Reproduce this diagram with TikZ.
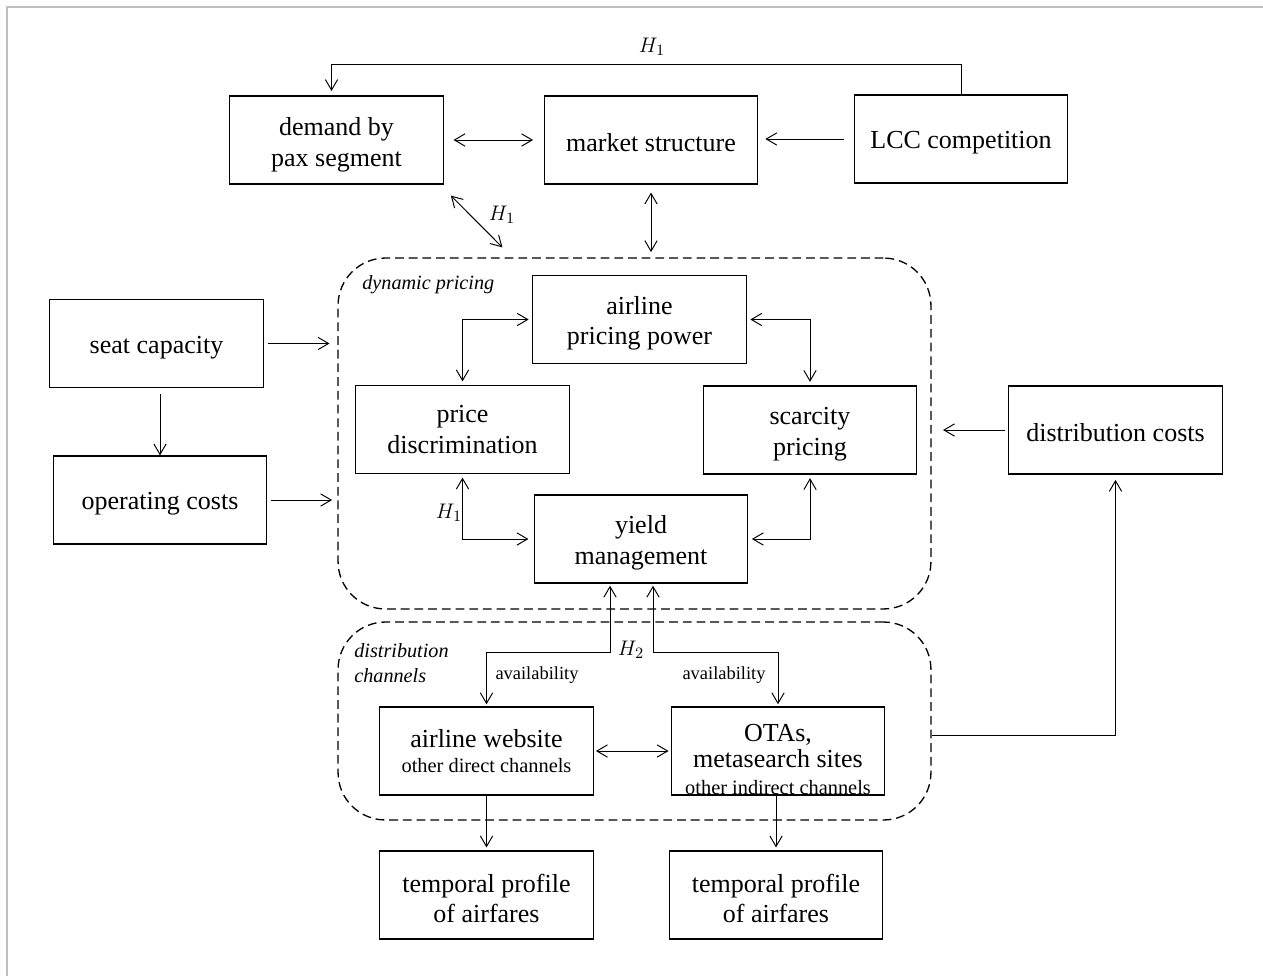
\documentclass[tikz,border=0pt]{standalone}
\usepackage{fontspec}
\setmainfont{Liberation Serif}
\usetikzlibrary{arrows.meta,calc}
\newcommand\mainsz{\fontsize{14.8}{17.5}\selectfont}
\newcommand\subsz{\fontsize{11.6}{13.5}\selectfont}
\newcommand\lblsz{\fontsize{10.5}{12}\selectfont}
\newcommand\itsz{\fontsize{11.5}{14.5}\selectfont\itshape}
\newcommand\hsz{\fontsize{12.5}{14}\selectfont}
\newcommand\firstln{\rule{0pt}{14.5pt}}
\begin{document}
\begin{tikzpicture}[x=0.02cm,y=-0.02cm,
  box/.style={draw, line width=0.7pt, inner sep=0pt, align=center, font=\mainsz,
              minimum width=4.27cm, minimum height=1.76cm,
              execute at begin node={\rule{0pt}{13.5pt}}},
  grp/.style={draw, line width=0.75pt, dash pattern=on 5pt off 2.8pt,
              rounded corners=0.95cm, inner sep=0pt},
  arr/.style={line width=0.55pt, -{Straight Barb[length=6pt,width=7pt]}},
  arrb/.style={line width=0.55pt, {Straight Barb[length=6pt,width=7pt]}-{Straight Barb[length=6pt,width=7pt]}},
  lbl/.style={inner sep=0pt}]
\useasboundingbox (0,0) rectangle (1263,976);
\draw[line width=1.2pt, black!25] (7,976) -- (7,7) -- (1263,7);

% containers
\node[grp, minimum width=11.86cm, minimum height=7.02cm] (dyn) at (634.5,433.5) {};
\node[grp, minimum width=11.86cm, minimum height=3.96cm] (dch) at (634.5,721) {};
\node[lbl, font=\itsz, anchor=west] (dynlbl) at (362,285) {dynamic pricing};
\node[lbl, font=\itsz, anchor=west, align=left] (dchlbl) at (354,663) {distribution\\channels};

% boxes
\node[box] (demand) at (336.5,140) {\rule{0pt}{16pt}demand by\\pax segment};
\node[box] (market) at (651,140) {market structure};
\node[box] (lcc) at (961,139) {LCC competition};
\node[box] (seat) at (156.5,343.5) {\rule{0pt}{14.5pt}seat capacity};
\node[box] (op) at (160,500) {operating costs};
\node[box] (app) at (639.5,319.5) {\firstln airline\\pricing power};
\node[box] (pd) at (462.5,429.5) {price\\discrimination};
\node[box] (scar) at (810,430) {\firstln scarcity\\pricing};
\node[box] (yield) at (641,539) {\firstln yield\\management};
\node[box] (dcost) at (1115.5,430) {distribution costs};
\node[box] (web) at (486.5,751) {airline website\\[-3pt]\subsz other direct channels};
\node[box] (ota) at (778,751) {\rule{0pt}{19pt}OTAs,\\[-2.3pt]metasearch sites\\[-2.5pt]\subsz other indirect channels};
\node[box] (tp1) at (486.5,895) {\firstln temporal profile\\of airfares};
\node[box] (tp2) at (776,895) {\firstln temporal profile\\of airfares};

% top feedback
\draw[arr, shorten >=2.5pt] (lcc.north) -- ++(0,-30) coordinate (tc) -| ([xshift=-0.1cm]demand.north);
\node[lbl, font=\hsz] (h1a) at (652,47) {$H_1$};
\draw[arrb, shorten <=5.5pt, shorten >=6pt] (demand.east) -- (market.west);
\draw[arr, shorten <=5.5pt, shorten >=4pt] (lcc.west) -- (market.east |- lcc.west);
\draw[arrb] ($(demand.south east)+(7,11)$) -- ($(dyn.north west)+(165,-10)$);
\node[lbl, font=\hsz] (h1b) at (502,215) {$H_1$};
\draw[arrb, shorten <=4.5pt, shorten >=3pt] (market.south) -- (market.south |- dyn.north);

% left inputs
\draw[arr, shorten <=2.3pt, shorten >=4.5pt] (seat.east) -- (seat.east -| dyn.west);
\draw[arr, shorten <=3.4pt] (op.north |- seat.south) -- (op.north);
\draw[arr, shorten <=2pt, shorten >=3pt] (op.east) -- (op.east -| dyn.west);
\draw[arr, shorten <=2pt, shorten >=6.5pt] (dcost.west) -- (dcost.west -| dyn.east);

% inside dynamic pricing
\draw[arrb, shorten <=2pt, shorten >=2pt] (pd.north) |- (app.west);
\draw[arrb, shorten <=2pt, shorten >=2pt] (app.east) -| (scar.north);
\draw[arrb, shorten <=2pt, shorten >=3pt] (pd.south) |- (yield.west);
\draw[arrb, shorten <=2pt, shorten >=2pt] (scar.south) |- (yield.east);
\node[lbl, font=\hsz] (h1c) at (449,513) {$H_1$};

% to distribution channels
\draw[arrb, shorten <=1.2pt, shorten >=1.2pt] ([xshift=-0.62cm]yield.south) -- ([xshift=-0.62cm,yshift=-1.38cm]yield.south) -| (web.north);
\draw[arrb, shorten <=1.2pt, shorten >=1.2pt] ([xshift=0.24cm]yield.south) -- ([xshift=0.24cm,yshift=-1.38cm]yield.south) -| (ota.north);
\node[lbl, font=\hsz] (h2) at (631,650) {$H_2$};
\node[lbl, font=\lblsz] (av1) at (537,675) {availability};
\node[lbl, font=\lblsz] (av2) at (724,675) {availability};
\draw[arrb, shorten <=1.2pt, shorten >=1.2pt] (web.east) -- (ota.west);
\draw[arr, shorten >=1.7pt] (web.south) -- (tp1.north);
\draw[arr, shorten >=1.7pt] ([xshift=-0.04cm]ota.south) -- ([xshift=-0.04cm]ota.south |- tp2.north);
\draw[arr, shorten >=3pt] ([yshift=-0.28cm]dch.east) -| (dcost.south);
\end{tikzpicture}
\end{document}
